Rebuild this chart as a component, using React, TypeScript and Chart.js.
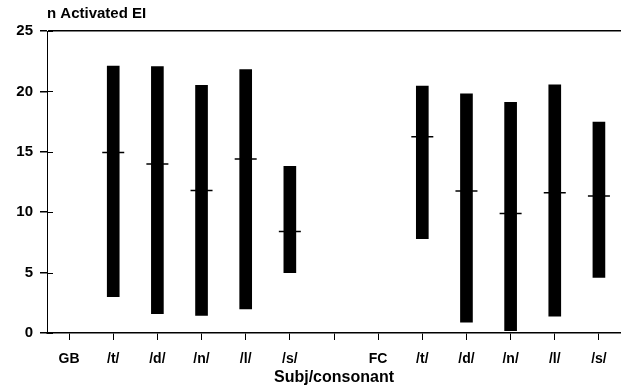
import React, { useEffect, useRef } from "react";
import { Chart, registerables } from "chart.js";

Chart.register(...registerables);

const categories = ["GB", "/t/", "/d/", "/n/", "/l/", "/s/", "", "FC", "/t/", "/d/", "/n/", "/l/", "/s/"];
const rangeLow = [null, 3.0, 1.6, 1.45, 2.0, 5.0, null, null, 7.8, 0.9, 0.2, 1.4, 4.6];
const rangeHigh = [null, 22.1, 22.05, 20.5, 21.8, 13.8, null, null, 20.45, 19.8, 19.1, 20.55, 17.45];
const medians = [null, 14.95, 14.0, 11.8, 14.4, 8.4, null, null, 16.25, 11.75, 9.9, 11.6, 11.35];
const yMin = 0;
const yMax = 25;
const yStep = 5;
const yTitle = "n Activated EI";
const xTitle = "Subj/consonant";

const FONT = "'Liberation Sans', Arial, Helvetica, sans-serif";

const extrasPlugin = {
  id: "extras",
  afterDraw(chart: any) {
    const { ctx, chartArea } = chart;
    const y = chart.scales.y;
    ctx.save();
    ctx.strokeStyle = "#000";
    ctx.lineWidth = 1;
    y.ticks.forEach((t: any) => {
      const py = Math.round(y.getPixelForValue(t.value)) + 0.5;
      ctx.beginPath();
      ctx.moveTo(chartArea.left, py);
      ctx.lineTo(chartArea.left + 6, py);
      ctx.stroke();
    });
    ctx.fillStyle = "#000";
    ctx.font = `bold 15px ${FONT}`;
    ctx.textAlign = "left";
    ctx.textBaseline = "middle";
    ctx.fillText(yTitle, chartArea.left, chartArea.top - 17);
    ctx.restore();
  },
};

export default function App() {
  const ref = useRef<HTMLCanvasElement | null>(null);

  useEffect(() => {
    document.body.style.margin = "0";
    const canvas = ref.current;
    if (!canvas) return;
    const chart = new Chart(canvas, {
      type: "bar",
      data: {
        labels: categories,
        datasets: [
          {
            type: "line" as any,
            data: medians as any,
            showLine: false,
            pointStyle: "line",
            pointRadius: 11,
            pointHoverRadius: 11,
            pointBorderColor: "#000",
            pointBackgroundColor: "#000",
            pointBorderWidth: 1.5,
            borderColor: "#000",
            order: 1,
          } as any,
          {
            type: "bar",
            data: rangeLow.map((l, i) => (l == null ? null : [l, rangeHigh[i] as number])) as any,
            backgroundColor: "#000",
            borderWidth: 0,
            barThickness: 12,
            grouped: false,
            order: 2,
          } as any,
        ],
      },
      options: {
        animation: false,
        responsive: false,
        maintainAspectRatio: false,
        layout: { autoPadding: false, padding: { top: 31, left: 0, right: 0, bottom: 0 } },
        plugins: {
          legend: { display: false },
          tooltip: { enabled: false },
        },
        scales: {
          x: {
            type: "category",
            offset: true,
            afterFit: (s: any) => {
              s.height = 55;
              s.paddingRight = 0;
              s.paddingLeft = 0;
            },
            border: { display: true, color: "#000", width: 1.5 },
            grid: {
              offset: false,
              drawOnChartArea: false,
              drawTicks: true,
              tickLength: 7,
              color: "#000",
              tickColor: "#000",
            },
            ticks: {
              color: "#000",
              font: { family: FONT, size: 14, weight: "bold" },
              padding: 11,
              maxRotation: 0,
              autoSkip: false,
            },
            title: {
              display: true,
              text: xTitle,
              color: "#000",
              font: { family: FONT, size: 16, weight: "bold" },
              padding: { top: 0, bottom: 1 },
            },
          },
          y: {
            min: yMin,
            max: yMax,
            afterFit: (s: any) => {
              s.width = 47;
            },
            border: { display: true, color: "#000", width: 1 },
            grid: {
              drawOnChartArea: true,
              drawTicks: true,
              tickLength: 7,
              color: (c: any) => (c.tick && c.tick.value === yMax ? "#000" : "rgba(0,0,0,0)"),
              tickColor: "#000",
              lineWidth: 1.5,
            },
            ticks: {
              stepSize: yStep,
              color: "#000",
              font: { family: FONT, size: 15, weight: "bold" },
              padding: 7,
            },
          },
        },
      },
      plugins: [extrasPlugin],
    });
    return () => chart.destroy();
  }, []);

  return (
    <div style={{ width: 621, height: 388, background: "#fff" }}>
      <canvas ref={ref} width={621} height={388} style={{ display: "block" }} />
    </div>
  );
}
